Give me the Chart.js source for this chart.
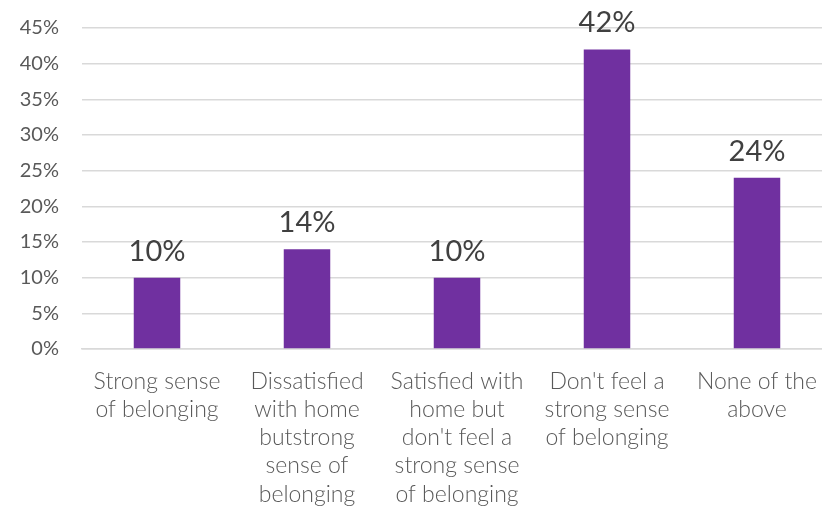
<!DOCTYPE html>
<html lang="en">
<head>
<meta charset="UTF-8">
<title>Sense of belonging</title>
<script src="https://cdn.jsdelivr.net/npm/chart.js@4/dist/chart.umd.min.js"></script>
<style>
  html, body { margin: 0; padding: 0; background: #fff; overflow: hidden; }
  #wrap { position: relative; width: 832px; height: 507px; }
</style>
</head>
<body>
<div id="wrap"><canvas id="myChart"></canvas></div>
<script>
// categories (multi-line, as wrapped in the original)
var categories = [
    ["Strong sense", "of belonging"],
    ["Dissatisfied", "with home", "butstrong", "sense of", "belonging"],
    ["Satisfied with", "home but", "don't feel a", "strong sense", "of belonging"],
    ["Don't feel a", "strong sense", "of belonging"],
    ["None of the", "above"]
];
var values = [10, 14, 10, 42, 24];
var yMax = 45;
var yStep = 5;

// draws the % value above each bar
var valueLabels = {
    id: 'valueLabels',
    afterDatasetsDraw: function(chart) {
        var ctx = chart.ctx;
        var meta = chart.getDatasetMeta(0);
        ctx.save();
        ctx.font = '29px Lato';
        ctx.fillStyle = '#404040';
        ctx.textAlign = 'center';
        ctx.textBaseline = 'alphabetic';
        meta.data.forEach(function(bar, i) {
            ctx.fillText(values[i] + '%', bar.x, bar.y - 17);
        });
        ctx.restore();
    }
};

var ctx = document.getElementById('myChart');
new Chart(ctx, {
    type: 'bar',
    data: {
        labels: categories,
        datasets: [{
            data: values,
            backgroundColor: '#7030A0',
            borderWidth: 0,
            barPercentage: 0.62,
            categoryPercentage: 0.5
        }]
    },
    options: {
        responsive: true,
        maintainAspectRatio: false,
        animation: false,
        layout: { padding: { top: 28, left: 0, right: 0, bottom: 0 } },
        plugins: {
            legend: { display: false },
            tooltip: { enabled: false }
        },
        scales: {
            x: {
                grid: { display: false },
                border: { color: '#d9d9d9', width: 1.5 },
                ticks: {
                    color: '#595959',
                    font: { family: 'Lato', size: 23, weight: '300', lineHeight: 1.23 },
                    padding: 10,
                    maxRotation: 0,
                    autoSkip: false
                },
                afterFit: function(scale) { scale.height = 158; }
            },
            y: {
                min: 0,
                max: yMax,
                grid: { color: '#d9d9d9', lineWidth: 1.5, drawTicks: true, tickLength: 22, tickColor: 'rgba(0,0,0,0)' },
                border: { display: false },
                ticks: {
                    stepSize: yStep,
                    color: '#595959',
                    font: { family: 'Lato', size: 20 },
                    padding: 1,
                    callback: function(v) { return v + '%'; }
                },
                afterFit: function(scale) { scale.width = 82; }
            }
        }
    },
    plugins: [valueLabels]
});
</script>
</body>
</html>
